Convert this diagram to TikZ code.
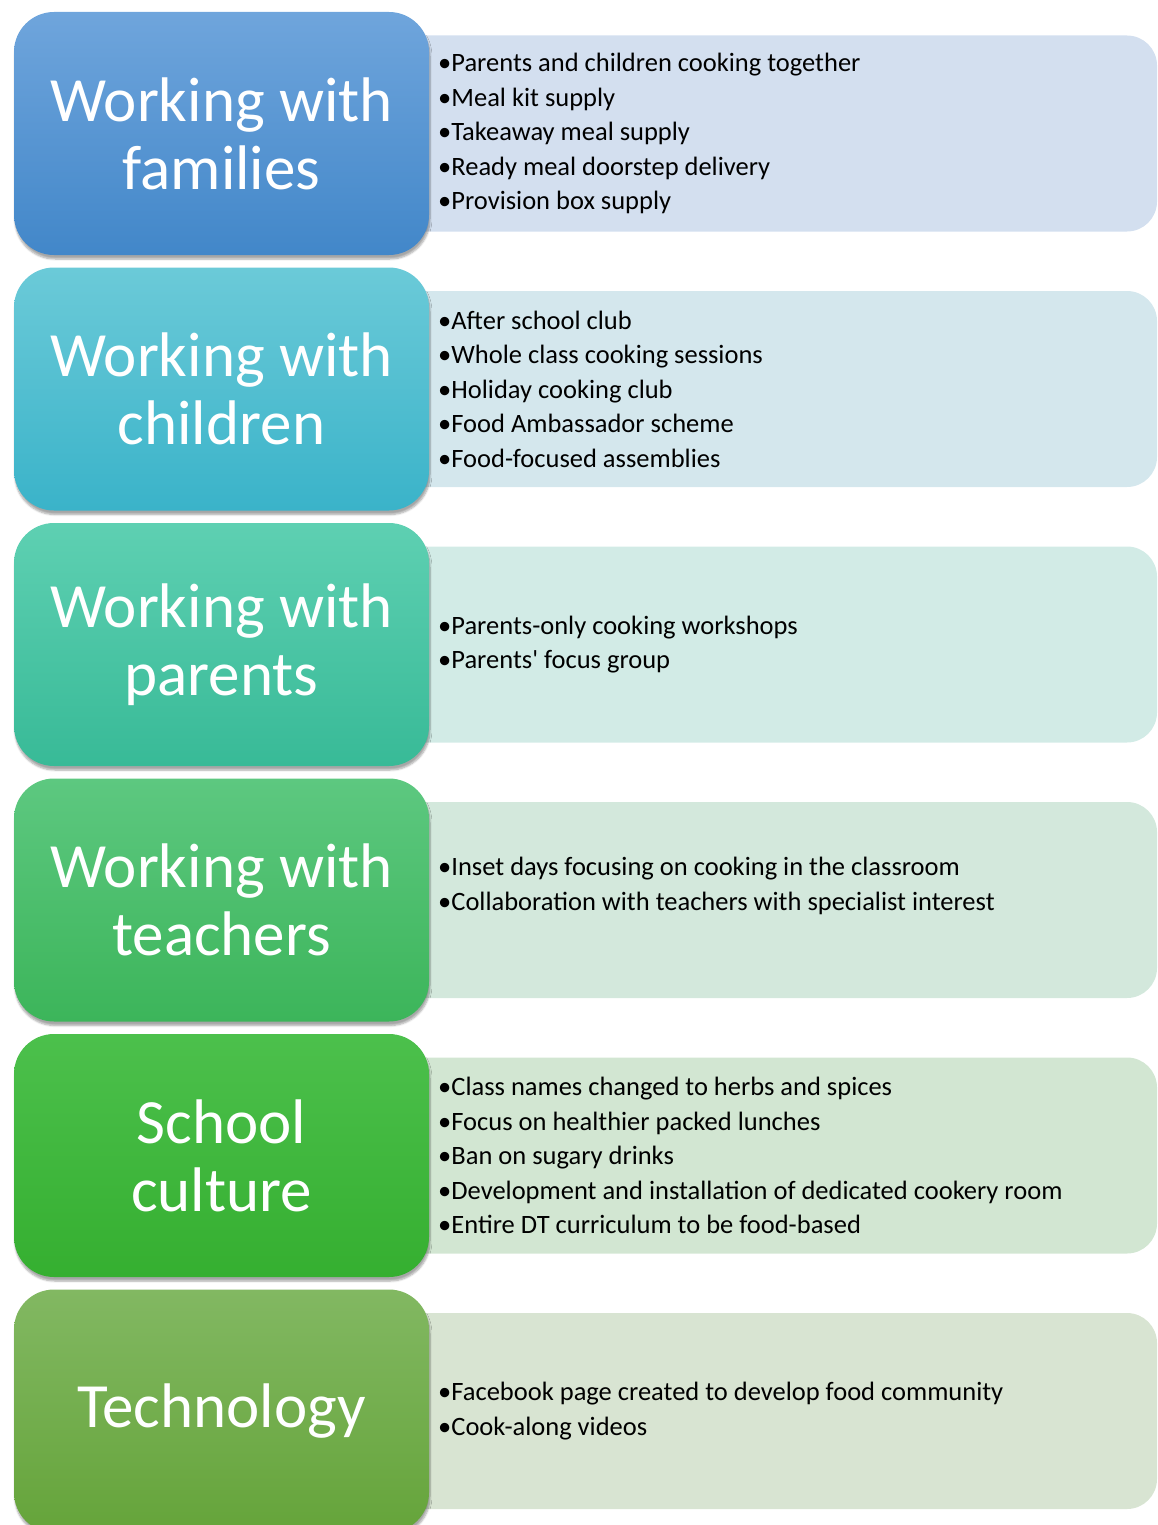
\documentclass[tikz,border=0pt]{standalone}
\usepackage{fontspec}
\setmainfont{Carlito}
\usetikzlibrary{
  positioning,
  backgrounds,
  shadows.blur
}
\definecolor{famtop}{HTML}{6FA5DC}
\definecolor{fambot}{HTML}{4287C9}
\definecolor{famlight}{HTML}{D3DFEF}
\definecolor{chitop}{HTML}{6BCAD8}
\definecolor{chibot}{HTML}{3AB3C9}
\definecolor{chilight}{HTML}{D4E7ED}
\definecolor{partop}{HTML}{5ED0B2}
\definecolor{parbot}{HTML}{38BA97}
\definecolor{parlight}{HTML}{D2EBE6}
\definecolor{teatop}{HTML}{5DC880}
\definecolor{teabot}{HTML}{3CB55A}
\definecolor{tealight}{HTML}{D3E8DC}
\definecolor{cultop}{HTML}{4CC04C}
\definecolor{culbot}{HTML}{35AF30}
\definecolor{cullight}{HTML}{D2E6D2}
\definecolor{techtop}{HTML}{82B862}
\definecolor{techbot}{HTML}{65A43A}
\definecolor{techlight}{HTML}{D8E4D2}
\tikzset{
  headbox/.style={
    rectangle, rounded corners=40pt,
    minimum width=415pt, minimum height=243pt,
    inner sep=0pt, outer sep=0pt,
    align=center, text=white,
    font=\fontsize{63}{68}\selectfont,
    blur shadow={shadow xshift=1pt, shadow yshift=-4pt,
      shadow blur steps=6, shadow opacity=35}
  },
  listbox/.style={
    rectangle, rounded corners=30pt,
    minimum width=777pt, minimum height=196pt,
    inner sep=0pt, outer sep=0pt
  },
  listtext/.style={
    align=left, inner sep=0pt,
    font=\fontsize{26.5}{34.5}\selectfont
  }
}

\begin{document}
\begin{tikzpicture}[x=1pt, y=1pt]
\useasboundingbox (0,0) rectangle (1157,-1525);

% headings down the left
\node[headbox, top color=famtop, bottom color=fambot] (families) at (221.5,-133.5) {Working with\\families};
\node[headbox, top color=chitop, bottom color=chibot, below=12.5pt of families] (children) {Working with\\children};
\node[headbox, top color=partop, bottom color=parbot, below=12.5pt of children] (parents) {Working with\\parents};
\node[headbox, top color=teatop, bottom color=teabot, below=12.5pt of parents] (teachers) {Working with\\teachers};
\node[headbox, top color=cultop, bottom color=culbot, below=12.5pt of teachers] (culture) {School\\culture};
\node[headbox, top color=techtop, bottom color=techbot, below=12.5pt of culture] (technology) {Technology};

% pale lists behind
\begin{scope}[on background layer]
\node[listbox, fill=famlight, right=-49pt of families] (familieslist) {};
\node[listbox, fill=chilight, right=-49pt of children] (childrenlist) {};
\node[listbox, fill=parlight, right=-49pt of parents] (parentslist) {};
\node[listbox, fill=tealight, right=-49pt of teachers] (teacherslist) {};
\node[listbox, fill=cullight, right=-49pt of culture] (culturelist) {};
\node[listbox, fill=techlight, right=-49pt of technology] (technologylist) {};
\end{scope}

\node[listtext, right=58pt of familieslist.west] (familiestext) {%
  •Parents and children cooking together\\
  •Meal kit supply\\
  •Takeaway meal supply\\
  •Ready meal doorstep delivery\\
  •Provision box supply};
\node[listtext, right=58pt of childrenlist.west] (childrentext) {%
  •After school club\\
  •Whole class cooking sessions\\
  •Holiday cooking club\\
  •Food Ambassador scheme\\
  •Food-focused assemblies};
\node[listtext, right=58pt of parentslist.west] (parentstext) {%
  •Parents-only cooking workshops\\
  •Parents\textquotesingle{} focus group};
\node[listtext, right=58pt of teacherslist.west, yshift=14pt] (teacherstext) {%
  •Inset days focusing on cooking in the classroom\\
  •Collaboration with teachers with specialist interest};
\node[listtext, right=58pt of culturelist.west] (culturetext) {%
  •Class names changed to herbs and spices\\
  •Focus on healthier packed lunches\\
  •Ban on sugary drinks\\
  •Development and installation of dedicated cookery room\\
  •Entire DT curriculum to be food-based};
\node[listtext, right=58pt of technologylist.west] (technologytext) {%
  •Facebook page created to develop food community\\
  •Cook-along videos};
\end{tikzpicture}
\end{document}
